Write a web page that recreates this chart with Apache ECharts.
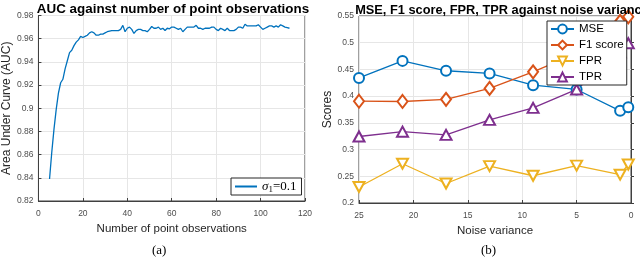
<!DOCTYPE html>
<html><head><meta charset="utf-8">
<script src="https://cdn.jsdelivr.net/npm/echarts/dist/echarts.min.js"></script>
<style>html,body{margin:0;padding:0;background:#fff}#c{width:640px;height:258px}</style>
</head><body><div id="c"></div>
<script>
// ---- Left chart data ----
var aucX = [5,6,7,8,9,10,11,12,13,14,15,16,17,18,19,20,21,22,23,24,25,26,27,28,29,30,31,32,33,34,35,36,37,38,39,40,41,42,43,44,45,46,47,48,49,50,51,52,53,54,55,56,57,58,59,60,61,62,63,64,65,66,67,68,69,70,71,72,73,74,75,76,77,78,79,80,81,82,83,84,85,86,87,88,89,90,91,92,93,94,95,96,97,98,99,100,101,102,103,104,105,106,107,108,109,110,111,112,113];
var aucY = [0.839,0.862,0.882,0.899,0.913,0.922,0.925,0.934,0.941,0.948,0.950,0.954,0.957,0.959,0.962,0.961,0.962,0.963,0.965,0.966,0.965,0.963,0.963,0.964,0.964,0.965,0.966,0.9665,0.967,0.967,0.967,0.967,0.968,0.9715,0.966,0.969,0.970,0.968,0.9645,0.967,0.968,0.968,0.967,0.967,0.966,0.968,0.9705,0.969,0.969,0.970,0.968,0.969,0.967,0.969,0.9685,0.970,0.970,0.969,0.968,0.969,0.966,0.968,0.970,0.970,0.970,0.970,0.9715,0.969,0.969,0.968,0.969,0.969,0.969,0.970,0.970,0.968,0.967,0.969,0.968,0.967,0.969,0.967,0.967,0.967,0.968,0.970,0.970,0.969,0.9725,0.971,0.971,0.971,0.971,0.971,0.972,0.970,0.968,0.969,0.970,0.971,0.971,0.970,0.971,0.970,0.972,0.971,0.970,0.9695,0.969];
var leftXTicks = {min:0, max:120, interval:20};
var leftYTicks = {min:0.82, max:0.98, interval:0.02};

// ---- Right chart data ----
var noiseVar = [25,21,17,13,9,5,1,0.25];
var mse = [0.434,0.466,0.4475,0.4425,0.4205,0.4125,0.3725,0.379];
var f1  = [0.3905,0.390,0.394,0.4145,0.4455,0.480,0.540,0.5485];
var fpr = [0.230,0.2735,0.2365,0.269,0.251,0.270,0.253,0.272];
var tpr = [0.3245,0.3335,0.3275,0.3555,0.378,0.4125,0.482,0.499];
var seriesNames = ['MSE','F1 score','FPR','TPR'];

var AX = '#404040', GRID = '#e6e6e6';
var FONT = 'Liberation Sans, Arial, sans-serif';
var tickFmt = function(v){ return String(parseFloat(v.toFixed(2))); };

function baseAxis(extra){
  var a = {
    axisLine:{show:true,lineStyle:{color:AX,width:1}},
    axisTick:{show:true,inside:true,length:3,lineStyle:{color:AX}},
    axisLabel:{color:'#4d4d4d',fontSize:8.5,fontFamily:FONT},
    splitLine:{show:true,lineStyle:{color:GRID,width:1}},
    nameTextStyle:{color:'#262626',fontSize:11.5,fontFamily:FONT}
  };
  for (var k in extra) a[k]=extra[k];
  return a;
}

var chart = echarts.init(document.getElementById('c'), null, {renderer:'canvas'});
var option = {
  animation:false,
  backgroundColor:'#fff',
  title:[
    {text:'AUC against number of point observations', left:168, top:-2, textAlign:'center',
     textStyle:{fontSize:13.4,fontWeight:'bold',color:'#000',fontFamily:FONT}},
    {text:'MSE, F1 score, FPR, TPR against noise variance', left:497, top:-1, textAlign:'center',
     textStyle:{fontSize:12.8,fontWeight:'bold',color:'#000',fontFamily:FONT}}
  ],
  grid:[
    {left:33, right:335, top:15.5, bottom:57, show:true, borderColor:AX, borderWidth:1, backgroundColor:'transparent'},
    {left:359, right:9, top:16, bottom:55, show:true, borderColor:AX, borderWidth:1, backgroundColor:'transparent'}
  ],
  xAxis:[
    baseAxis({type:'value', gridIndex:0, min:leftXTicks.min, max:leftXTicks.max, interval:leftXTicks.interval,
      name:'Number of point observations', nameLocation:'middle', nameGap:15}),
    baseAxis({type:'value', gridIndex:1, min:0, max:25, interval:5, inverse:true,
      name:'Noise variance', nameLocation:'middle', nameGap:15})
  ],
  yAxis:[
    baseAxis({type:'value', gridIndex:0, min:leftYTicks.min, max:leftYTicks.max, interval:leftYTicks.interval,
      axisLabel:{color:'#4d4d4d',fontSize:8.5,formatter:tickFmt,margin:5,fontFamily:FONT},
      nameTextStyle:{color:'#262626',fontSize:12,fontFamily:FONT},
      name:'Area Under Curve (AUC)', nameLocation:'middle', nameGap:22}),
    baseAxis({type:'value', gridIndex:1, min:0.2, max:0.55, interval:0.05,
      axisLabel:{color:'#4d4d4d',fontSize:8.5,formatter:tickFmt,margin:5,fontFamily:FONT},
      nameTextStyle:{color:'#262626',fontSize:12,fontFamily:FONT},
      name:'Scores', nameLocation:'middle', nameGap:22})
  ],
  legend:[
    {data:[{name:'sigma', icon:'rect'}], left:231, top:178, orient:'horizontal', padding:[2,5,1,4],
     borderColor:'#262626', borderWidth:1, backgroundColor:'#fff', itemWidth:22, itemHeight:2,
     formatter:function(){ return '{s|σ}{sub|1}{t|=0.1}'; },
     textStyle:{rich:{
       s:{fontFamily:'Liberation Serif, serif',fontStyle:'italic',fontSize:13,color:'#000'},
       sub:{fontFamily:'Liberation Serif, serif',fontSize:9,color:'#000',padding:[6,0,0,0]},
       t:{fontFamily:'Liberation Serif, serif',fontSize:13,color:'#000'}
     }}},
    {data:seriesNames, left:547, top:21, orient:'vertical', padding:[2,3,2,3], itemGap:4,
     borderColor:'#262626', borderWidth:1, backgroundColor:'#fff', itemWidth:23, itemHeight:11,
     textStyle:{fontSize:11.5,color:'#000',fontFamily:FONT}}
  ],
  series:[
    {name:'sigma', type:'line', xAxisIndex:0, yAxisIndex:0, showSymbol:false, symbol:'none',
     data:aucX.map(function(x,i){return [x,aucY[i]];}),
     lineStyle:{color:'#0072BD',width:1.3}, itemStyle:{color:'#0072BD'}},
    {name:'MSE', type:'line', xAxisIndex:1, yAxisIndex:1, symbol:'emptyCircle', symbolSize:10,
     data:noiseVar.map(function(x,i){return [x,mse[i]];}),
     lineStyle:{color:'#0072BD',width:1.3}, itemStyle:{color:'#0072BD',borderWidth:1.3}},
    {name:'F1 score', type:'line', xAxisIndex:1, yAxisIndex:1, symbol:'emptyDiamond', symbolSize:[10,13],
     data:noiseVar.map(function(x,i){return [x,f1[i]];}),
     lineStyle:{color:'#D95319',width:1.3}, itemStyle:{color:'#D95319',borderWidth:1.3}},
    {name:'FPR', type:'line', xAxisIndex:1, yAxisIndex:1, symbol:'emptyTriangle', symbolRotate:180, symbolSize:[11,10],
     data:noiseVar.map(function(x,i){return [x,fpr[i]];}),
     lineStyle:{color:'#EDB120',width:1.3}, itemStyle:{color:'#EDB120',borderWidth:1.3}},
    {name:'TPR', type:'line', xAxisIndex:1, yAxisIndex:1, symbol:'emptyTriangle', symbolSize:[11,10],
     data:noiseVar.map(function(x,i){return [x,tpr[i]];}),
     lineStyle:{color:'#7E2F8E',width:1.3}, itemStyle:{color:'#7E2F8E',borderWidth:1.3}}
  ],
  graphic:[
    {type:'text', left:152, top:244, style:{text:'(a)', fontSize:13, fontFamily:'Liberation Serif, serif', fill:'#000'}},
    {type:'text', left:481, top:244, style:{text:'(b)', fontSize:13, fontFamily:'Liberation Serif, serif', fill:'#000'}}
  ]
};
chart.setOption(option);
</script></body></html>
